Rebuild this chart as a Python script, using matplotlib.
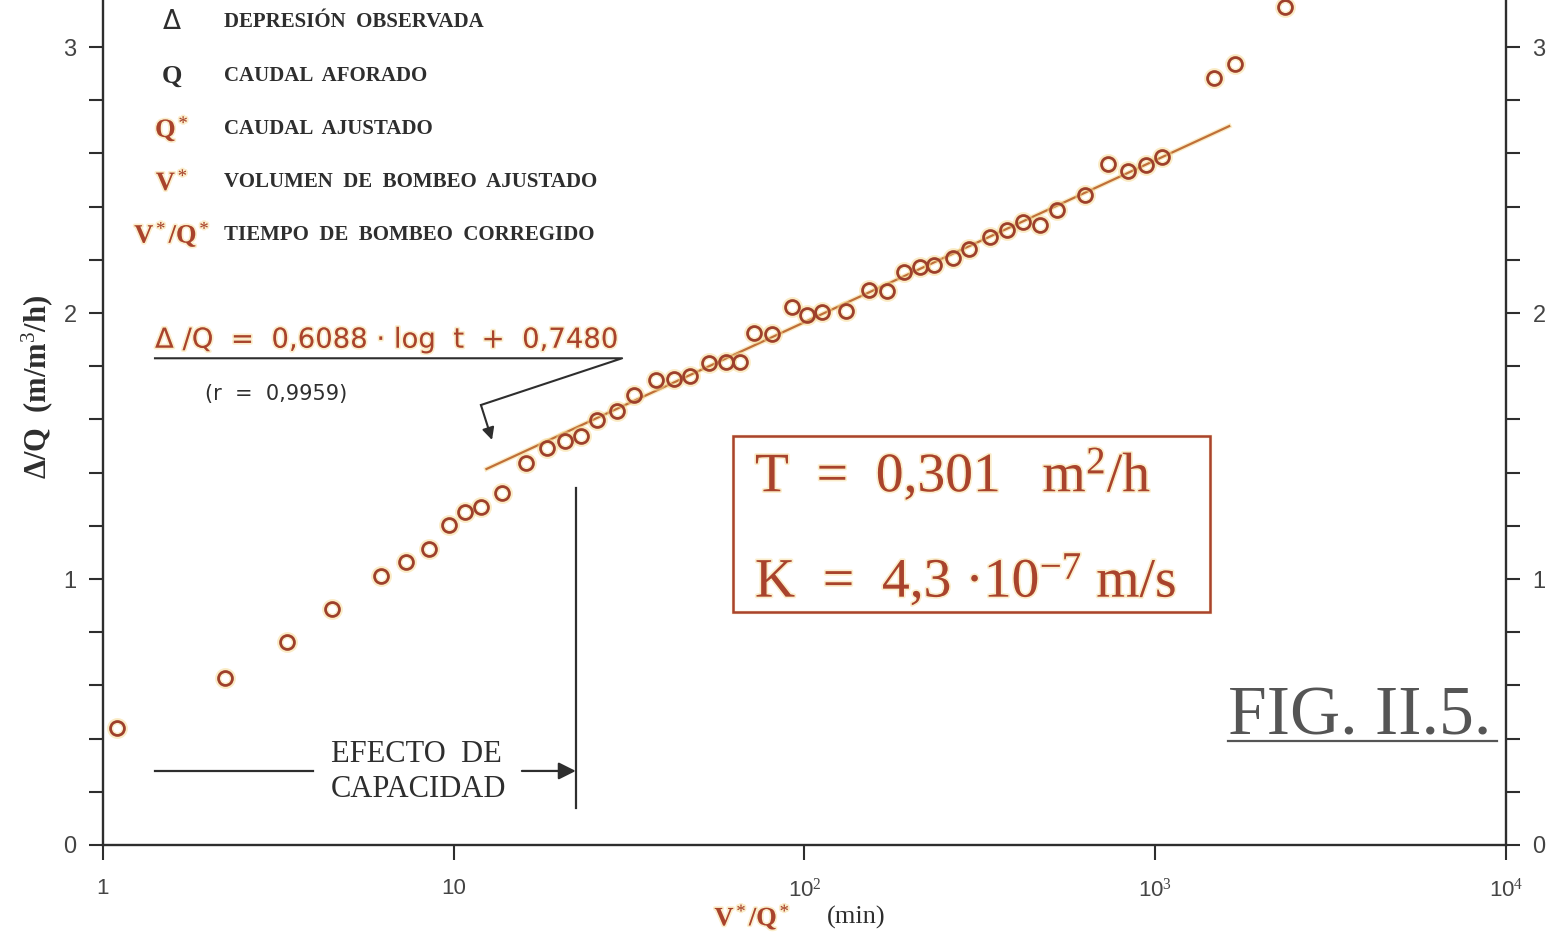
import numpy as np
import matplotlib
matplotlib.use("Agg")
import matplotlib.pyplot as plt
import matplotlib.patheffects as pe
from matplotlib.patches import Rectangle

plt.rcParams['font.family'] = ['Liberation Serif', 'DejaVu Serif']
plt.rcParams['mathtext.fontset'] = 'custom'
plt.rcParams['mathtext.rm'] = 'Liberation Serif'
plt.rcParams['mathtext.it'] = 'Liberation Serif:italic'
plt.rcParams['mathtext.bf'] = 'Liberation Serif:bold'

# corrected pumping time V*/Q* (min) and drawdown / discharge (m per m3/h)
t_corr = [1.10, 2.23, 3.35, 4.50, 6.20, 7.31, 8.49, 9.69, 10.8, 12.0,
          13.7, 16.1, 18.4, 20.8, 23.1, 25.6, 29.2, 32.6, 37.7, 42.5,
          47.2, 53.5, 59.7, 65.5, 71.8, 80.8, 92.1, 102, 112, 131,
          153, 172, 192, 213, 234, 265, 294, 338, 378, 420,
          469, 525, 631, 733, 836, 941, 1046, 1472, 1688, 2344]
dq = [0.440, 0.628, 0.763, 0.887, 1.011, 1.064, 1.113, 1.203, 1.252, 1.271,
      1.323, 1.436, 1.492, 1.519, 1.538, 1.598, 1.632, 1.692, 1.748, 1.752,
      1.763, 1.812, 1.816, 1.816, 1.925, 1.921, 2.023, 1.992, 2.004, 2.008,
      2.086, 2.083, 2.154, 2.173, 2.180, 2.207, 2.241, 2.286, 2.312, 2.342,
      2.331, 2.387, 2.444, 2.560, 2.534, 2.556, 2.586, 2.883, 2.936, 3.150]

# Jacob fit: dq = a*log t + b, drawn over the fitted range
slope = 0.6088
intercept = 0.7480
fit_range = [12.4, 1625]
t_capacity = 22.3   # end of well-bore storage effect

RED = '#a9432d'
DARK = '#2e2e2e'
YEL = '#f6d98c'
halo = [pe.withStroke(linewidth=2.5, foreground=YEL, alpha=0.45)]

fig = plt.figure(figsize=(15.55, 9.44), dpi=100)
ax = fig.add_axes([0.0662, 0.1049, 0.9023, 0.8951])
ax.set_xscale('log')
ax.set_xlim(1, 1e4)
ax.set_ylim(0, 3.177)

t_fit = np.logspace(np.log10(fit_range[0]), np.log10(fit_range[1]), 50)
ax.plot(t_fit, slope * np.log10(t_fit) + intercept, color='#c0703a', lw=1.6,
        path_effects=[pe.withStroke(linewidth=3.5, foreground=YEL, alpha=0.5)],
        zorder=3)
# yellowish fringe under the circles, then the circles
ax.plot(t_corr, dq, 'o', ms=10.5, mfc='none', mec=YEL, mew=4.5, alpha=0.5, zorder=4)
ax.plot(t_corr, dq, 'o', ms=10, mfc='none', mec='#9e402c', mew=2.0, zorder=5)

# axes styling
ax.spines['top'].set_visible(False)
for s in ['left', 'right', 'bottom']:
    ax.spines[s].set_color(DARK)
    ax.spines[s].set_linewidth(1.7)
ax.set_xticks([1, 10, 100, 1000, 10000])
ax.set_xticklabels(['1', '10', '10$^2$', '10$^3$', '10$^4$'])
ax.xaxis.set_minor_locator(matplotlib.ticker.NullLocator())
ax.set_yticks([0, 1, 2, 3])
ax.set_yticks(np.arange(0, 3.2, 0.2), minor=True)
ax.tick_params(axis='y', which='both', direction='out', left=True, right=True,
               labelleft=True, labelright=True, length=10, width=1.5,
               color=DARK, labelcolor='#444', pad=9, labelsize=17)
ax.tick_params(axis='x', which='major', direction='out', length=11, width=1.5,
               color=DARK, labelcolor='#444', pad=13, labelsize=16)
for lab in ax.get_yticklabels():
    lab.set_family(['Liberation Sans', 'DejaVu Sans'])
for lab in ax.get_xticklabels():
    lab.set_family(['Liberation Sans', 'DejaVu Sans'])

# axis titles
fig.text(0.024, 0.59, 'Δ/Q  (m/m$^3$/h)', rotation=90, ha='center', va='center',
         fontsize=22, fontweight='bold', color=DARK)
fig.text(0.508, 0.028, 'V$^*$/Q$^*$', ha='right', va='center', fontsize=19,
         fontweight='bold', color=RED, path_effects=halo)
fig.text(0.532, 0.028, '(min)', ha='left', va='center', fontsize=19, color=DARK)

# symbol key
key_sym = ['Δ', 'Q', 'Q$^*$', 'V$^*$', 'V$^*$/Q$^*$']
key_col = [DARK, DARK, RED, RED, RED]
key_wt = ['normal', 'bold', 'bold', 'bold', 'bold']
key_txt = ['DEPRESIÓN  OBSERVADA', 'CAUDAL  AFORADO', 'CAUDAL  AJUSTADO',
           'VOLUMEN  DE  BOMBEO  AJUSTADO', 'TIEMPO  DE  BOMBEO  CORREGIDO']
key_y = [0.974, 0.910, 0.847, 0.785, 0.722]
for sym, col, wt, txt, yy in zip(key_sym, key_col, key_wt, key_txt, key_y):
    eff = halo if col == RED else None
    ax.text(0.0492, yy, sym, transform=ax.transAxes, ha='center', va='center',
            fontsize=19, fontweight=wt, color=col, path_effects=eff,
            family=['DejaVu Sans'] if sym == 'Δ' else None)
    ax.text(0.0862, yy, txt, transform=ax.transAxes, ha='left', va='center',
            fontsize=15, fontweight='bold', color=DARK)

# fitted equation
ax.text(0.0371, 0.598, 'Δ /Q  =  0,6088 · log  t  +  0,7480', transform=ax.transAxes,
        ha='left', va='center', fontsize=19.8, color=RED,
        family=['DejaVu Sans'], path_effects=halo)
ax.plot([0.0371, 0.370, 0.2694], [0.576, 0.576, 0.5207], transform=ax.transAxes,
        color=DARK, lw=1.5, clip_on=False)
ax.annotate('', xy=(0.2773, 0.4793), xytext=(0.2694, 0.5207),
            xycoords='axes fraction',
            arrowprops=dict(arrowstyle='-|>', color=DARK, lw=1.5, mutation_scale=18,
                            shrinkA=0, shrinkB=0))
ax.text(0.0727, 0.5337, '(r  =  0,9959)', transform=ax.transAxes, ha='left',
        va='center', fontsize=15, color=DARK, family=['DejaVu Sans'])

# hydraulic parameters
ax.add_patch(Rectangle((0.449, 0.2757), 0.340, 0.2083, transform=ax.transAxes,
                       fill=False, ec=RED, lw=1.8, path_effects=halo))
ax.text(0.4647, 0.438, 'T  =  0,301   m$^2$/h', transform=ax.transAxes, ha='left',
        va='center', fontsize=40, color=RED, path_effects=halo)
ax.text(0.4647, 0.3136, 'K  =  4,3 ·10$^{-7}$ m/s', transform=ax.transAxes,
        ha='left', va='center', fontsize=40, color=RED, path_effects=halo)

# storage effect marker
ax.axvline(t_capacity, ymin=0.0438, ymax=0.4225, color=DARK, lw=1.6)
ax.plot([0.0371, 0.1497], [0.0876, 0.0876], transform=ax.transAxes, color=DARK, lw=1.6)
ax.annotate('', xy=(0.337, 0.0876), xytext=(0.2986, 0.0876), xycoords='axes fraction',
            arrowprops=dict(arrowstyle='-|>', color=DARK, lw=1.6, mutation_scale=26,
                            shrinkA=0, shrinkB=0))
ax.text(0.1625, 0.1065, 'EFECTO  DE', transform=ax.transAxes, ha='left',
        va='center', fontsize=22, color=DARK)
ax.text(0.1625, 0.0651, 'CAPACIDAD', transform=ax.transAxes, ha='left',
        va='center', fontsize=22, color=DARK)

# figure number
ax.text(0.8019, 0.150, 'FIG. II.5.', transform=ax.transAxes, ha='left',
        va='center', fontsize=50, color='#555555')
ax.plot([0.8019, 0.9936], [0.123, 0.123], transform=ax.transAxes, color='#555555',
        lw=1.6)

fig.savefig('out.png', dpi=100)
